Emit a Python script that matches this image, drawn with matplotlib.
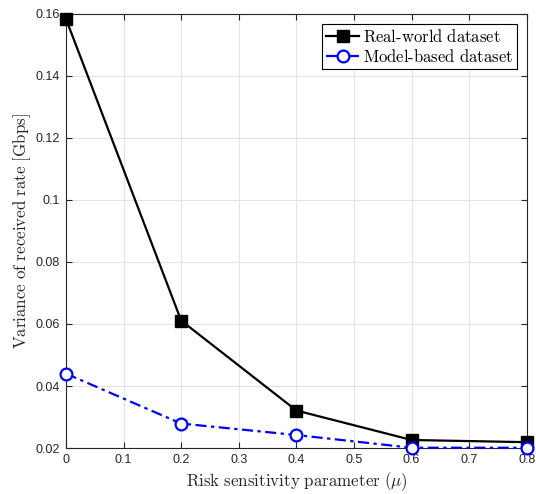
import numpy as np
import matplotlib
matplotlib.use('Agg')
import matplotlib.pyplot as plt

# --- Data ---
mu = [0, 0.2, 0.4, 0.6, 0.8]
real_world = [0.1584, 0.0611, 0.0321, 0.0226, 0.0219]
model_based = [0.0440, 0.0279, 0.0242, 0.0201, 0.0201]

x_ticks = [0, 0.1, 0.2, 0.3, 0.4, 0.5, 0.6, 0.7, 0.8]
y_ticks = [0.02, 0.04, 0.06, 0.08, 0.1, 0.12, 0.14, 0.16]
y_ticklabels = ['0.02', '0.04', '0.06', '0.08', '0.1', '0.12', '0.14', '0.16']

plt.rcParams['mathtext.fontset'] = 'cm'
plt.rcParams['font.family'] = ['Liberation Sans', 'DejaVu Sans']

fig = plt.figure(figsize=(5.36, 4.94), dpi=100)
ax = fig.add_axes([0.123, 0.093, 0.860, 0.879])

ax.plot(mu, real_world, color='black', linestyle='-', linewidth=1.6,
        marker='s', markersize=8.5, markerfacecolor='black',
        label=r'$\mathrm{Real\text{-}world\ dataset}$', clip_on=False, zorder=4)
ax.plot(mu, model_based, color='blue', linestyle=(0, (5, 2, 1.5, 2)), linewidth=1.6,
        marker='o', markersize=8.5, markerfacecolor='white', markeredgewidth=1.6,
        label=r'$\mathrm{Model\text{-}based\ dataset}$', clip_on=False, zorder=5)

ax.set_xlim(0, 0.8)
ax.set_ylim(0.02, 0.16)
ax.set_xticks(x_ticks)
ax.set_xticklabels([f'{v:g}' for v in x_ticks])
ax.set_yticks(y_ticks)
ax.set_yticklabels(y_ticklabels)

ax.grid(True, color='#e3e3e3', linewidth=0.8)
ax.set_axisbelow(True)
for s in ax.spines.values():
    s.set_color('#262626')
    s.set_linewidth(0.8)
ax.tick_params(direction='in', top=True, right=True, length=4, width=0.8,
               colors='#262626', labelsize=9, pad=4.5)

ax.set_xlabel(r'$\mathrm{Risk\ sensitivity\ parameter\ }(\mu)$', fontsize=12.2, color='#262626', labelpad=3)
ax.set_ylabel(r'$\mathrm{Variance\ of\ received\ rate\ [Gbps]}$', fontsize=12.2, color='#262626', labelpad=2)

leg = ax.legend(loc='upper right', fontsize=12, frameon=True, fancybox=False,
                edgecolor='black', framealpha=1, borderpad=0.25, handlelength=2.0,
                handletextpad=0.2, labelspacing=0.2, borderaxespad=0.6)
leg.get_frame().set_linewidth(0.8)

plt.savefig('out.png', dpi=100)
